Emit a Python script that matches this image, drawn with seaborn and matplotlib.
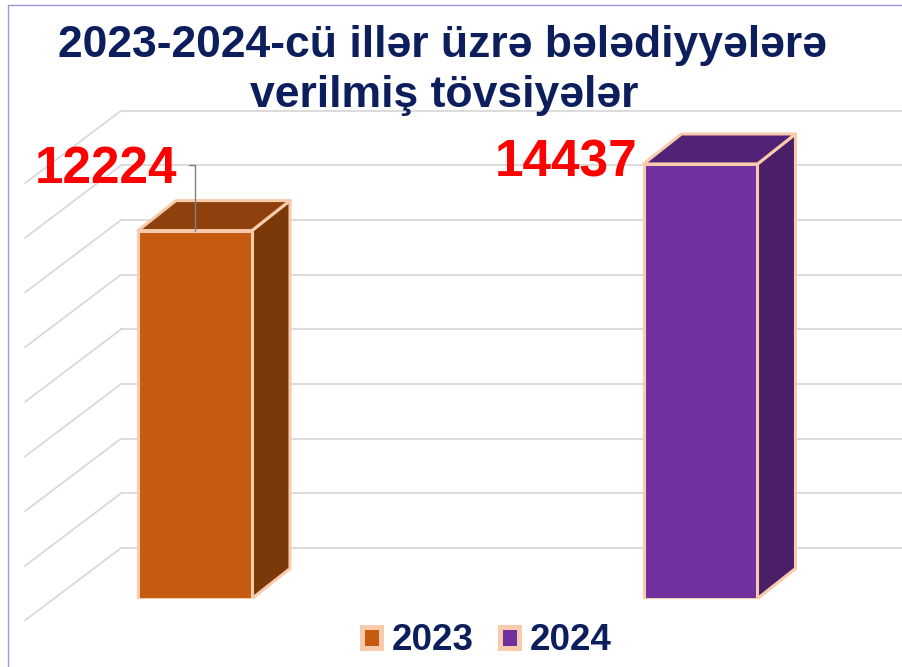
import numpy as np
import pandas as pd
import matplotlib
matplotlib.use("Agg")
import matplotlib.pyplot as plt
import seaborn as sns
from matplotlib.patches import Polygon, Patch
from matplotlib.lines import Line2D

# ---- data ----
years = ["2023", "2024"]
values = [12224, 14437]
grid_ticks = [0, 2000, 4000, 6000, 8000, 10000, 12000, 14000, 16000]
title_lines = ["2023-2024-cü illər üzrə bələdiyyələrə", "verilmiş tövsiyələr"]

# ---- styles ----
front_colors = ["#C55A11", "#7030A0"]
side_colors = ["#7B3808", "#4A1F68"]
top_colors = ["#8E410C", "#512275"]
edge = "#F8CBAD"
navy = "#0D1E5C"
grid_c = "#D9D9D9"

sns.set_theme(style="white")
plt.rcParams["font.family"] = ["Liberation Sans", "DejaVu Sans"]

W, H = 902, 667
fig = plt.figure(figsize=(W / 100, H / 100), dpi=100)
fig.patch.set_facecolor("white")


def fx(px):
    return px / W


def fy(py):
    return 1 - py / H


to_fig = fig.transFigure.inverted()

# ---- back wall with gridlines ----
ax_back = fig.add_axes([fx(121), fy(548), fx(902) - fx(121), fy(110.7) - fy(548)])
ax_back.set_ylim(0, 16000)
ax_back.set_xlim(0, 1)
ax_back.set_axis_off()
for v in grid_ticks:
    ax_back.axhline(v, color=grid_c, lw=1.3, clip_on=False, zorder=0)
    p0 = ax_back.transData.transform((0, v))
    p1 = p0 + np.array([-96, -72.5])
    f0, f1 = to_fig.transform([p0, p1])
    fig.add_artist(Line2D([f0[0], f1[0]], [f0[1], f1[1]], color=grid_c, lw=1.3, zorder=0))

# ---- main axes with front faces ----
scale = 0.0301  # px per unit
ax = fig.add_axes([0, fy(598.5), 1, 1 - fy(598.5)])
ax.patch.set_alpha(0)
df = pd.DataFrame({"year": years, "value": values})
sns.barplot(data=df, x="year", y="value", hue="year", palette=front_colors,
            saturation=1, width=0.2255, edgecolor=edge, linewidth=2.2, legend=False,
            ax=ax, zorder=3)
ax.set_xlim(-195 / 505.5, (902 - 195) / 505.5)
ax.set_ylim(0, 598.5 / scale)
ax.set_axis_off()

bars = sorted(ax.patches, key=lambda p: p.get_x())
d = np.array([38, 30])
inv = ax.transData.inverted()
for i, b in enumerate(bars):
    x0, w, h = b.get_x(), b.get_width(), b.get_height()
    TL, TR, BR = ax.transData.transform([(x0, h), (x0 + w, h), (x0 + w, 0)])
    side = inv.transform([BR, TR, TR + d, BR + d])
    top = inv.transform([TL, TR, TR + d, TL + d])
    ax.add_patch(Polygon(side, closed=True, facecolor=side_colors[i], edgecolor=edge,
                         lw=2.2, joinstyle="round", zorder=2))
    ax.add_patch(Polygon(top, closed=True, facecolor=top_colors[i], edgecolor=edge,
                         lw=2.2, joinstyle="round", zorder=2))

# ---- value labels ----
b0, b1 = bars
ax.annotate(f"{values[0]}", xy=(b0.get_x() + b0.get_width() / 2, values[0]),
            xytext=(-88.5, 47.5), textcoords="offset pixels", ha="center", va="baseline",
            fontsize=37, fontweight="bold", color="#FF0000",
            arrowprops=dict(arrowstyle="-", color="#808080", lw=1.0, shrinkA=6, shrinkB=0,
                            relpos=(1, 0.6),
                            connectionstyle="angle,angleA=0,angleB=90,rad=0"))
ax.annotate(f"{values[1]}", xy=(b1.get_x(), values[1]),
            xytext=(-77.5, -13), textcoords="offset pixels", ha="center", va="baseline",
            fontsize=37, fontweight="bold", color="#FF0000")

# ---- title ----
fig.text(fx(442), fy(57), title_lines[0], ha="center", va="baseline",
         fontsize=32, fontweight="bold", color=navy)
fig.text(fx(444), fy(107), title_lines[1], ha="center", va="baseline",
         fontsize=32, fontweight="bold", color=navy)

# ---- legend ----
handles = [Patch(facecolor=c, edgecolor=edge, linewidth=3.6, label=y)
           for c, y in zip(front_colors, years)]
fig.legend(handles=handles, loc="center", bbox_to_anchor=(fx(487), fy(641)), ncol=2,
           frameon=False, prop=dict(weight="bold", size=26.5), labelcolor=navy,
           handlelength=0.52, handleheight=0.52, handletextpad=0.3, columnspacing=0.7)

# ---- slide frame ----
frame_c = "#9D98DE"
fig.add_artist(Line2D([fx(8), fx(8)], [fy(5), 0], color=frame_c, lw=1.0))
fig.add_artist(Line2D([fx(8), 1], [fy(5), fy(5)], color=frame_c, lw=1.0))

fig.savefig("out.png", dpi=100)
